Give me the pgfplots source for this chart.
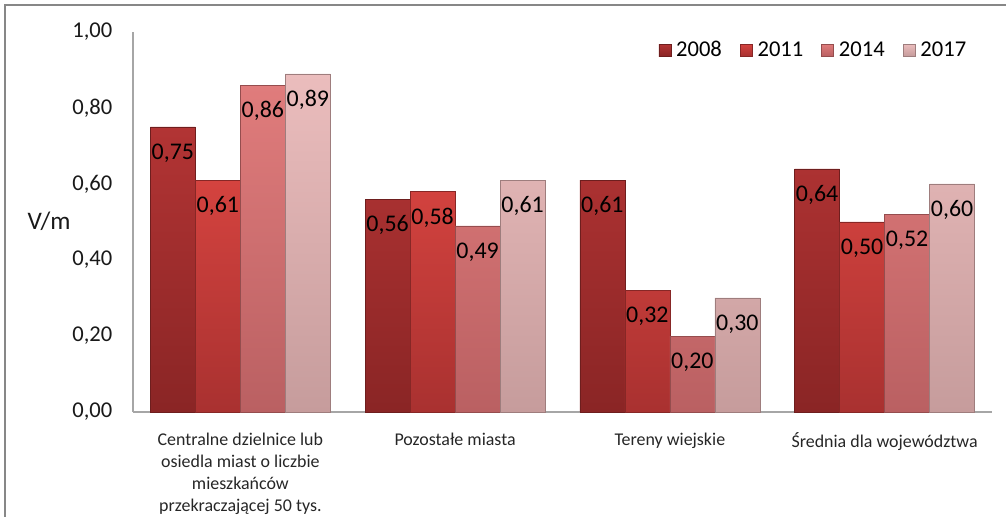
\documentclass[border=0pt]{standalone}
\usepackage{fontspec}
\setmainfont{Carlito}
\usepackage{pgfplots}
\pgfplotsset{compat=1.18}
\definecolor{cAt}{HTML}{B23434}
\definecolor{cAb}{HTML}{8A2525}
\definecolor{cBt}{HTML}{D4433F}
\definecolor{cBb}{HTML}{A93130}
\definecolor{cCt}{HTML}{E07C7C}
\definecolor{cCb}{HTML}{BA6062}
\definecolor{cDt}{HTML}{EBBDBD}
\definecolor{cDb}{HTML}{C69C9C}
\definecolor{framegray}{HTML}{878787}
\definecolor{axgray}{HTML}{A6A6A6}
\begin{document}
\begin{tikzpicture}
\path[use as bounding box] (-99.75bp,-78.75bp) rectangle (654.75bp,309bp);
\draw[framegray, line width=1.6bp] (-96bp,-80bp) -- (-96bp,305.25bp) -- (660bp,305.25bp);
\begin{axis}[
  at={(0,0)}, anchor=south west,
  scale only axis, width=644.25bp, height=285bp,
  xmin=-0.5, xmax=3.5, ymin=0, ymax=1,
  ybar=0pt, bar width=33.75bp,
  xtick={0,1,2,3},
  xticklabels={{Centralne dzielnice lub\\osiedla miast o liczbie\\mieszkańców\\przekraczającej 50 tys.},{Pozostałe miasta},{Tereny wiejskie},{Średnia dla województwa}},
  ytick={0,0.2,0.4,0.6,0.8,1.0},
  major tick length=0pt,
  axis x line*=bottom, axis y line*=left,
  axis line style={-, draw=axgray, line width=0.8bp},
  /pgf/number format/.cd, fixed, fixed zerofill, precision=2, use comma, assume math mode=true,
  /pgfplots/.cd,
  yticklabel style={font=\fontsize{17}{20}\selectfont, text=black!90, xshift=-12bp},
  xticklabel style={font=\fontsize{13.5}{16.6}\selectfont, text=black!85, align=center, yshift=-12bp},
  nodes near coords,
  every node near coord/.append style={anchor=center, yshift=-19.5bp, font=\fontsize{18}{21}\selectfont, text=black},
  legend columns=4,
  legend style={draw=none, fill=none, at={(0.978,0.99)}, anchor=north east, font=\fontsize{17}{20}\selectfont,
    /tikz/every even column/.append style={column sep=11.6bp}},
  legend image code/.code={\path[#1] (0bp,-4.5bp) rectangle (9bp,4.5bp); \path[draw=none,fill=none,shade=false] (0bp,0bp) -- (11bp,0bp);},
]
\addplot[draw=cAb!80!black, line width=0.3bp, top color=cAt, bottom color=cAb] coordinates {(0,0.75) (1,0.56) (2,0.61) (3,0.64)};
\addplot[draw=cBb!80!black, line width=0.3bp, top color=cBt, bottom color=cBb] coordinates {(0,0.61) (1,0.58) (2,0.32) (3,0.50)};
\addplot[draw=cCb!80!black, line width=0.3bp, top color=cCt, bottom color=cCb] coordinates {(0,0.86) (1,0.49) (2,0.20) (3,0.52)};
\addplot[draw=cDb!80!black, line width=0.3bp, top color=cDt, bottom color=cDb] coordinates {(0,0.89) (1,0.61) (2,0.30) (3,0.60)};
\legend{2008,2011,2014,2017}
\end{axis}
\node[font=\fontsize{19}{22}\selectfont, text=black!90] at (-63bp,143.25bp) {V/m};
\end{tikzpicture}
\end{document}
